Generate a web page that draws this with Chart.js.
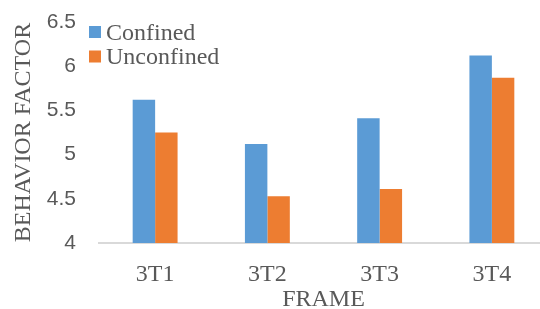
<!DOCTYPE html>
<html><head><meta charset="utf-8">
<script src="https://cdn.jsdelivr.net/npm/chart.js@4/dist/chart.umd.min.js"></script>
<style>html,body{margin:0;padding:0;overflow:hidden;background:#fff;width:540px;height:309px}canvas{display:block}</style>
</head><body>
<canvas id="c" width="550" height="309"></canvas>
<script>
const categories = ['3T1', '3T2', '3T3', '3T4'];
const confined = [5.62, 5.12, 5.41, 6.12];
const unconfined = [5.25, 4.53, 4.61, 5.87];
const yMin = 4, yMax = 6.5, yStep = 0.5;
const seriesNames = ['Confined', 'Unconfined'];
const xTitle = 'FRAME';
const yTitle = 'BEHAVIOR FACTOR';

const gray = '#595959';
const serif = '"Liberation Serif", "Times New Roman", serif';

const legendPlugin = {
  id: 'customLegend',
  afterDraw(chart) {
    const ctx = chart.ctx;
    ctx.save();
    ctx.font = '24px ' + serif;
    ctx.textBaseline = 'alphabetic';
    ctx.textAlign = 'left';
    chart.data.datasets.forEach((ds, i) => {
      const y = 26 + i * 24.5;
      ctx.fillStyle = ds.backgroundColor;
      ctx.fillRect(89, y, 12, 12);
      ctx.fillStyle = gray;
      ctx.fillText(ds.label, 106, y + 13.5);
    });
    ctx.restore();
  }
};

new Chart(document.getElementById('c'), {
  type: 'bar',
  data: {
    labels: categories,
    datasets: [
      { label: seriesNames[0], data: confined, backgroundColor: '#5B9BD5', borderWidth: 0, categoryPercentage: 0.4, barPercentage: 1.0 },
      { label: seriesNames[1], data: unconfined, backgroundColor: '#ED7D31', borderWidth: 0, categoryPercentage: 0.4, barPercentage: 1.0 }
    ]
  },
  options: {
    responsive: false,
    animation: false,
    layout: { padding: { top: 22, right: 2, left: 0, bottom: 0 } },
    plugins: { legend: { display: false }, tooltip: { enabled: false } },
    scales: {
      x: {
        grid: { display: false, drawTicks: false },
        border: { display: true, color: '#D9D9D9', width: 2 },
        ticks: { color: gray, font: { family: serif, size: 24 }, padding: 17, maxRotation: 0 },
        title: { display: true, text: xTitle, color: gray, font: { family: serif, size: 24, lineHeight: 0.8 }, padding: 0 },
        afterFit(scale) { scale.height = 66; scale.paddingLeft = 0; scale.paddingRight = 0; }
      },
      y: {
        min: yMin, max: yMax,
        grid: { display: false, drawTicks: false },
        border: { display: false },
        ticks: { stepSize: yStep, color: gray, font: { family: '"Liberation Sans", Arial, sans-serif', size: 21 }, padding: 23,
          callback: (v) => String(Math.round(v * 10) / 10) },
        title: { display: true, text: yTitle, color: gray, font: { family: serif, size: 24, lineHeight: 1.2 }, padding: { top: 9, bottom: 0 } },
        afterFit(scale) { scale.width = 99; scale.paddingTop = 0; scale.paddingBottom = 0; }
      }
    }
  },
  plugins: [legendPlugin]
});
</script>
</body></html>
